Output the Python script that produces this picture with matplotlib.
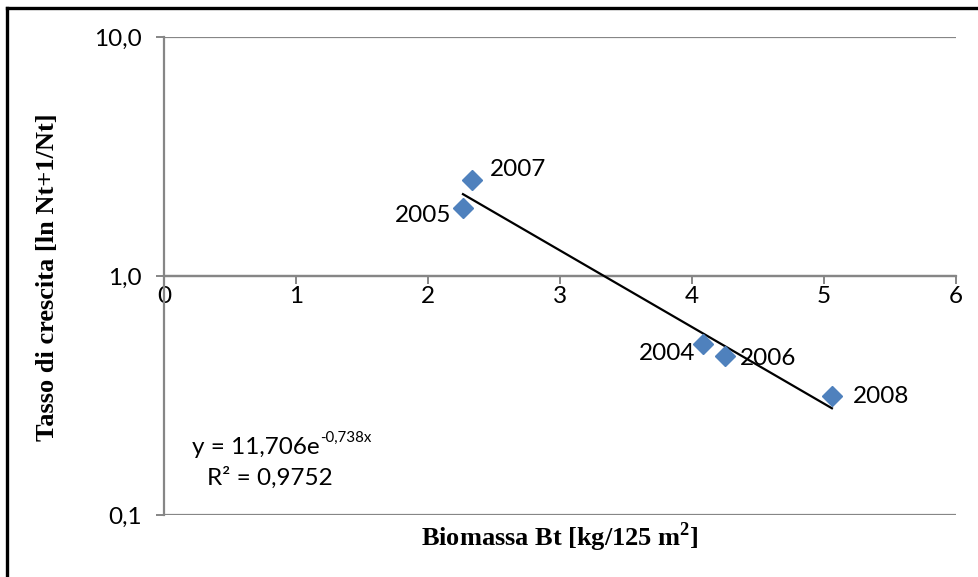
import numpy as np
import matplotlib
matplotlib.use("Agg")
import matplotlib.pyplot as plt
from matplotlib.lines import Line2D
from matplotlib.ticker import FixedLocator, FixedFormatter, NullLocator

# Biomass vs growth-rate observations by year
years = ["2004", "2005", "2006", "2007", "2008"]
biomass = [4.08, 2.265, 4.25, 2.33, 5.06]
growth = [0.52, 1.92, 0.464, 2.51, 0.316]

# Exponential fit y = a * exp(b * x)
fit_a = 11.706
fit_b = -0.738
fit_r2 = 0.9752

x_ticks = [0, 1, 2, 3, 4, 5, 6]
y_ticks = [0.1, 1.0, 10.0]
y_tick_labels = ["0,1", "1,0", "10,0"]

label_font = "Lato"
title_font = "Liberation Serif"
grey = "#868686"
blue = "#4F81BD"
fs = 17.5

fig = plt.figure(figsize=(9.79, 5.77), dpi=100)
ax = fig.add_axes([164 / 979, 1 - 515 / 577, (956 - 164) / 979, (515 - 37) / 577])

ax.set_yscale("log")
ax.set_xlim(0, 6)
ax.set_ylim(0.1, 10)

# horizontal gridlines
for yv in y_ticks:
    ax.axhline(yv, color=grey, lw=1.6, zorder=1)

# spines: left axis, x axis crossing at y = 1
for side in ("top", "right"):
    ax.spines[side].set_visible(False)
ax.spines["bottom"].set_position(("data", 1.0))
ax.spines["bottom"].set_color(grey)
ax.spines["bottom"].set_linewidth(1.6)
ax.spines["left"].set_color(grey)
ax.spines["left"].set_linewidth(1.6)

ax.xaxis.set_major_locator(FixedLocator(x_ticks))
ax.set_xticklabels([str(v) for v in x_ticks])
ax.yaxis.set_major_locator(FixedLocator(y_ticks))
ax.yaxis.set_major_formatter(FixedFormatter(y_tick_labels))
ax.yaxis.set_minor_locator(NullLocator())
ax.tick_params(axis="both", which="major", direction="out", length=6,
               width=1.4, color=grey, labelsize=fs)
ax.tick_params(axis="x", pad=1)
ax.tick_params(axis="y", pad=10)
for lab in ax.get_xticklabels() + ax.get_yticklabels():
    lab.set_fontfamily(label_font)

# trendline across the observed range
xs = np.linspace(min(biomass), max(biomass), 100)
ax.plot(xs, fit_a * np.exp(fit_b * xs), color="black", lw=1.6, zorder=3)

# observations
ax.plot(biomass, growth, linestyle="none", marker="D", markersize=10.5,
        color=blue, markeredgecolor=blue, zorder=4)

# year labels
offsets = {"2004": (-5, -7, "right"), "2005": (-8, -5, "right"),
           "2006": (11, -2, "left"), "2007": (13, 8, "left"),
           "2008": (15, -1, "left")}
for yr, xv, yv in zip(years, biomass, growth):
    dx, dy, ha = offsets[yr]
    ax.annotate(yr, (xv, yv), xytext=(dx, dy), textcoords="offset points",
                ha=ha, va="center", fontsize=fs, fontfamily=label_font,
                zorder=5)

# fit equation, exponent drawn as a raised smaller text
renderer = fig.canvas.get_renderer()
eq_main = fig.text(192 / 979, 1 - 447 / 577, "y = 11,706e",
                   fontsize=fs, fontfamily=label_font, ha="left", va="center")
bb = eq_main.get_window_extent(renderer=renderer)
fig.text((bb.x1 + 1) / 979, (bb.y0 + bb.height * 0.62) / 577,
         "-0,738x", fontsize=fs * 0.62,
         fontfamily=label_font, ha="left", va="bottom")
fig.text(270 / 979, 1 - 478 / 577, "R² = " + f"{fit_r2:.4f}".replace(".", ","),
         fontsize=fs, fontfamily=label_font, ha="center", va="center")

# axis titles
fig.text(560 / 979, 1 - 537 / 577, r"Biomassa Bt [kg/125 m$^{\mathregular{2}}$]",
         fontsize=19, fontweight="bold", fontfamily=title_font,
         ha="center", va="center")
fig.text(48 / 979, 1 - 277 / 577, "Tasso di crescita [ln Nt+1/Nt]",
         fontsize=19, fontweight="bold", fontfamily=title_font,
         ha="center", va="center", rotation=90)

# outer chart frame (top and left edges)
fig.add_artist(Line2D([7.5 / 979, 1.0], [1 - 7.5 / 577, 1 - 7.5 / 577],
                      transform=fig.transFigure, color="black", lw=2.4))
fig.add_artist(Line2D([7.5 / 979, 7.5 / 979], [0.0, 1 - 7.5 / 577],
                      transform=fig.transFigure, color="black", lw=2.4))

fig.savefig("out.png", dpi=100)
